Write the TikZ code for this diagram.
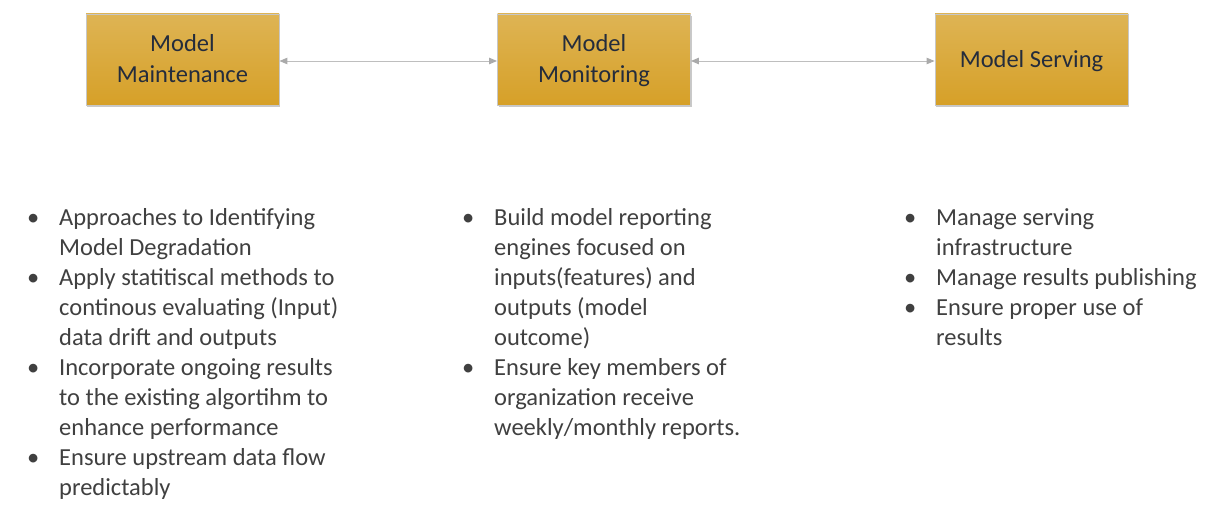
\documentclass[tikz,border=0pt]{standalone}
\usepackage{fontspec}
\setmainfont{Carlito}
\usetikzlibrary{arrows.meta,shadows}
\definecolor{goldtop}{RGB}{222,180,84}
\definecolor{goldbot}{RGB}{214,160,40}
\definecolor{boxtext}{RGB}{36,44,60}
\definecolor{bodytext}{RGB}{64,64,64}
\definecolor{linkgray}{RGB}{190,190,190}
\definecolor{tipgray}{RGB}{170,170,170}
\newcommand{\bul}{\makebox[32pt][l]{\textbullet}}
\newcommand{\ind}{\hspace*{32pt}}
\begin{document}
\begin{tikzpicture}[x=1pt,y=-1pt,
  goldbox/.style={draw=black!22, line width=0.9pt, top color=goldtop, bottom color=goldbot,
    minimum width=193pt, minimum height=91pt, inner sep=0pt,
    drop shadow={shadow xshift=1pt, shadow yshift=-2pt, opacity=0.35, fill=black!60}},
  boxlabel/.style={text=boxtext, font=\fontsize{24.5}{30}\selectfont, inner sep=0pt, anchor=base},
  bulletlist/.style={text=bodytext, font=\fontsize{24.5}{30}\selectfont, inner sep=0pt, anchor=north west},
  link/.style={draw=linkgray, line width=1pt, {Triangle[length=8pt,width=6.5pt,fill=tipgray,color=tipgray]}-{Triangle[length=8pt,width=6.5pt,fill=tipgray,color=tipgray]}}
]
\useasboundingbox (0,0) rectangle (1222,519);
\fill[white] (0,0) rectangle (1222,519);

\node[goldbox] (b1) at (182.5,59.5) {};
\node[goldbox] (b2) at (594,59.5) {};
\node[goldbox] (b3) at (1031.5,59.5) {};

\node[boxlabel] (t1a) at (182.5,52) {Model};
\node[boxlabel] (t1b) at (182.5,82) {Maintenance};
\node[boxlabel] (t2a) at (594,52) {Model};
\node[boxlabel] (t2b) at (594,82) {Monitoring};
\node[boxlabel] (t3) at (1031.5,67) {Model Serving};

\draw[link] ([yshift=-1.5pt]b1.east) -- ([yshift=-1.5pt]b2.west);
\draw[link] ([yshift=-1.5pt]b2.east) -- ([yshift=-1.5pt]b3.west);

\node[bulletlist] (l1) at (27,204) {\begin{tabular}{@{}l@{}}
\bul Approaches to Identifying\\
\ind Model Degradation\\
\bul Apply statitiscal methods to\\
\ind continous evaluating (Input)\\
\ind data drift and outputs\\
\bul Incorporate ongoing results\\
\ind to the existing algortihm to\\
\ind enhance performance\\
\bul Ensure upstream data flow\\
\ind predictably
\end{tabular}};

\node[bulletlist] (l2) at (462,204) {\begin{tabular}{@{}l@{}}
\bul Build model reporting\\
\ind engines focused on\\
\ind inputs(features) and\\
\ind outputs (model\\
\ind outcome)\\
\bul Ensure key members of\\
\ind organization receive\\
\ind weekly/monthly reports.
\end{tabular}};

\node[bulletlist] (l3) at (904,204) {\begin{tabular}{@{}l@{}}
\bul Manage serving\\
\ind infrastructure\\
\bul Manage results publishing\\
\bul Ensure proper use of\\
\ind results
\end{tabular}};
\end{tikzpicture}
\end{document}
